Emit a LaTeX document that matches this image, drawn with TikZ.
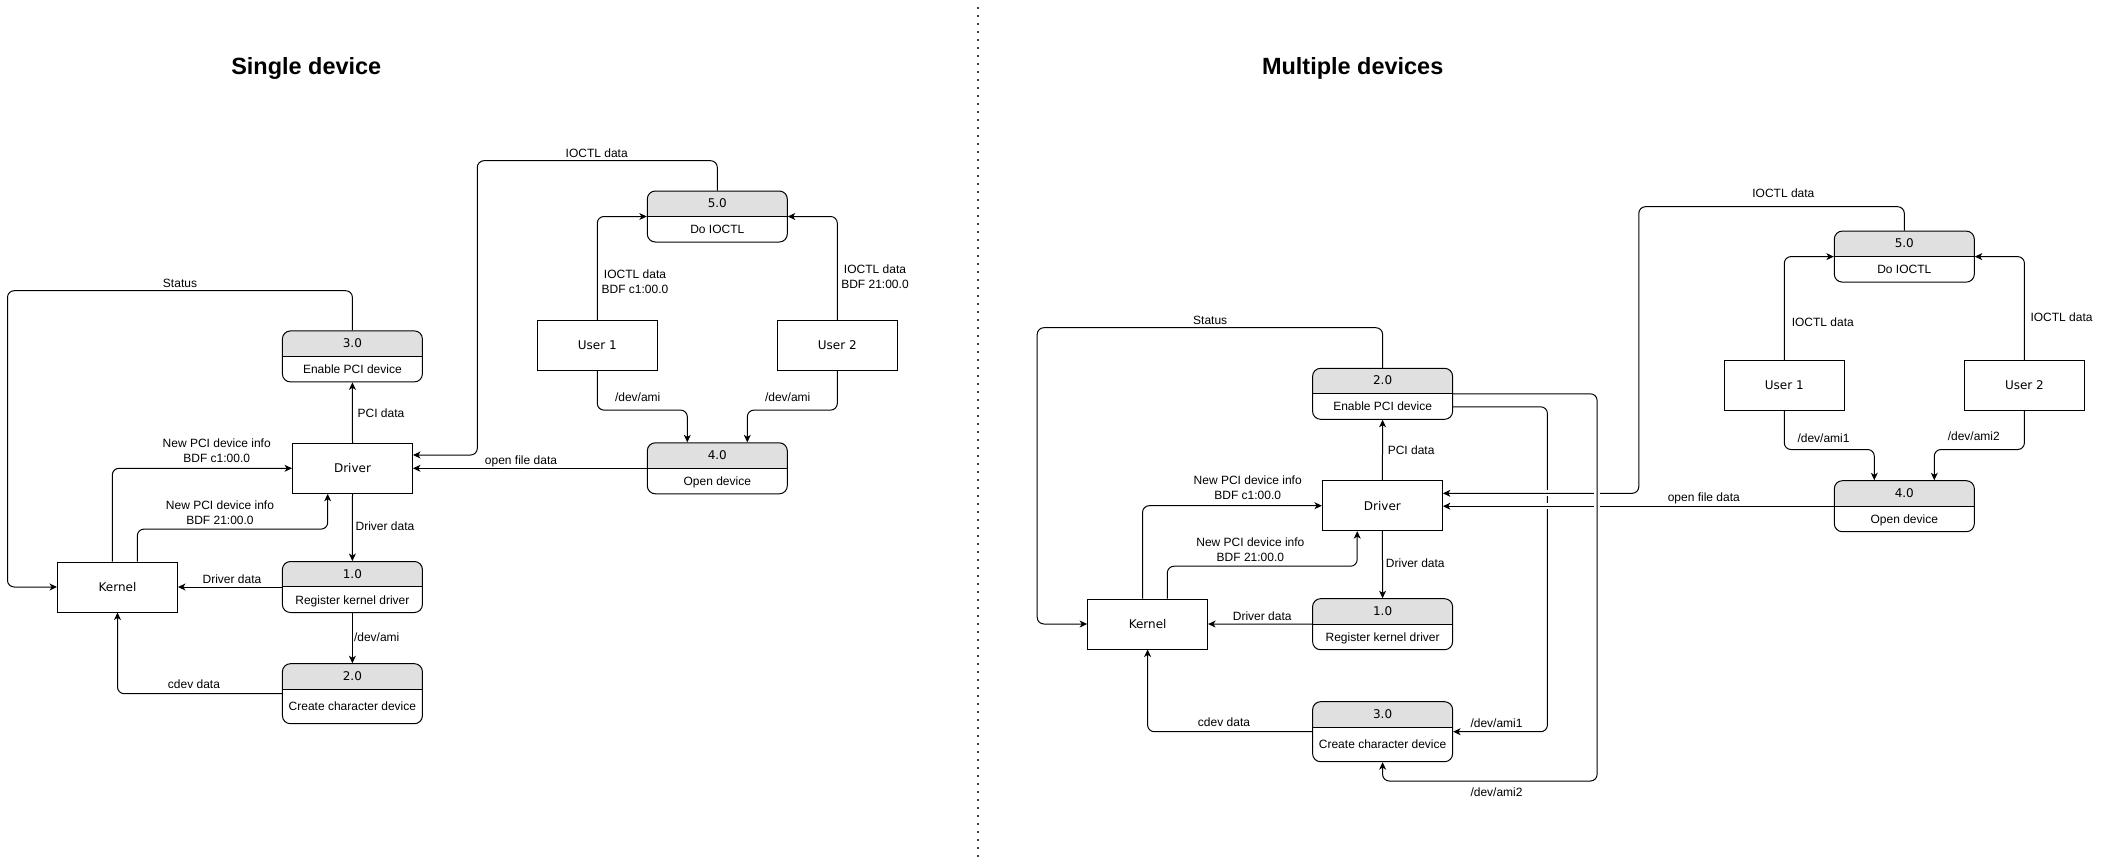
\documentclass[tikz,border=0pt]{standalone}
\usepackage{fontspec}
\setmainfont{Liberation Sans}
\newfontfamily\numfont{DejaVu Sans}
\usetikzlibrary{arrows.meta, calc}
\definecolor{hdrgray}{RGB}{224,224,224}

\begin{document}
\begin{tikzpicture}[
    x=0.75pt, y=-0.75pt,
    ent/.style={draw, line width=0.75pt, minimum width=90pt, minimum height=37.5pt,
                font=\numfont\fontsize{9}{11}\selectfont},
    proc/.style={draw, line width=0.75pt, rounded corners=6pt, minimum width=105pt,
                 minimum height=38.25pt, font=\fontsize{9}{11}\selectfont,
                 text height=25.6pt, text depth=0pt,
                 path picture={
                   \fill[hdrgray, sharp corners] (path picture bounding box.north west)
                     rectangle ([yshift=-19.1pt]path picture bounding box.north east);
                   \draw[sharp corners, line width=0.75pt]
                     ([yshift=-19.1pt]path picture bounding box.north west)
                     -- ([yshift=-19.1pt]path picture bounding box.north east);},
                 label={[numl]north:#1}},
    numl/.style={anchor=center, yshift=-9.56pt, inner sep=0pt, text height=6.6pt,
                 text depth=0pt, font=\numfont\fontsize{9}{11}\selectfont},
    arr/.style={-{Stealth[length=5.6pt, width=5.2pt, inset=1.6pt]}, line width=0.75pt,
                rounded corners=5pt},
    lbl/.style={font=\fontsize{9}{11.25}\selectfont, align=center, inner sep=0pt},
    ttl/.style={font=\bfseries\fontsize{17.6}{20}\selectfont},
    halo/.style={draw=white, line width=4.5pt},
    sep/.style={line width=1.5pt, dash pattern=on 1.5pt off 4.5pt, black!75},
  ]
    \useasboundingbox (0,0) rectangle (2107,858);

    \node[ttl] (t1) at (306.3,68.5) {Single device};
    \node[ttl] (t2) at (1352.7,68.5) {Multiple devices};
    \draw[sep] (977.7,7) -- (977.7,858);

    % single device
    \node[ent] (drv) at (352.5,468.3) {Driver};
    \node[ent] (kern) at (117.5,587) {Kernel};
    \node[proc=3.0] (enpci) at (352.4,356.4) {Enable PCI device};
    \node[proc=1.0] (regdrv) at (352.4,587) {Register kernel driver};
    \node[proc=2.0, minimum height=45pt] (mkcdev) at (352.4,693.7) {Create character device};
    \node[proc=5.0] (ioctl) at (717.3,216.5) {Do IOCTL};
    \node[proc=4.0] (opendev) at (717.3,468.3) {Open device};
    \node[ent] (usr1) at (597.3,345.3) {User 1};
    \node[ent] (usr2) at (837.3,345.3) {User 2};

    \coordinate (stA) at (7.5,290.7);
    \coordinate (ioA) at (477.3,160.7);
    \coordinate (ioB) at (477.3,455);

    \draw[arr] (enpci.north) |- (stA) |- (kern.west);
    \draw[arr] (ioctl.north) |- (ioA) -- (ioB) -- (drv.east |- ioB);
    \draw[arr] (opendev.west) -- (drv.east);
    \draw[arr] (usr1.north) |- (ioctl.west);
    \draw[arr] (usr2.north) |- (ioctl.east);
    \draw[arr] (usr1.south) -- ++(0,39.3) -| ([xshift=-22.5pt]opendev.north);
    \draw[arr] (usr2.south) -- ++(0,39.3) -| ([xshift=22.5pt]opendev.north);
    \draw[arr] ([xshift=-3.9pt]kern.north) |- (drv.west);
    \draw[arr] ([xshift=14.85pt]kern.north) -- ++(0,-32.4) -| ([xshift=-18.6pt]drv.south);
    \draw[arr] (drv.north) -- (enpci.south);
    \draw[arr] (drv.south) -- (regdrv.north);
    \draw[arr] (regdrv.west) -- (kern.east);
    \draw[arr] (regdrv.south) -- (mkcdev.north);
    \draw[arr] (mkcdev.west) -| (kern.south);

    \node[lbl] (lA1) at (180,283) {Status};
    \node[lbl] (lA2) at (381,413.3) {PCI data};
    \node[lbl] (lA3) at (216.7,450.5) {New PCI device info\\BDF c1:00.0};
    \node[lbl] (lA4) at (220,512.8) {New PCI device info\\BDF 21:00.0};
    \node[lbl] (lA5) at (385,526.7) {Driver data};
    \node[lbl] (lA6) at (232,579) {Driver data};
    \node[lbl] (lA7) at (376.7,636.7) {/dev/ami};
    \node[lbl] (lA8) at (194,684.3) {cdev data};
    \node[lbl] (lA9) at (596.7,153.3) {IOCTL data};
    \node[lbl] (lA10) at (635,281.8) {IOCTL data\\BDF c1:00.0};
    \node[lbl] (lA11) at (875,276.8) {IOCTL data\\BDF 21:00.0};
    \node[lbl] (lA12) at (637.7,397.7) {/dev/ami};
    \node[lbl] (lA13) at (787.7,397) {/dev/ami};
    \node[lbl] (lA14) at (521,461.7) {open file data};

    % multiple devices
    \node[ent] (drvB) at (1382.4,505.7) {Driver};
    \node[ent] (kernB) at (1147.6,624) {Kernel};
    \node[proc=2.0] (enpciB) at (1382.6,393.8) {Enable PCI device};
    \node[proc=1.0] (regdrvB) at (1382.6,624.2) {Register kernel driver};
    \node[proc=3.0, minimum height=45pt] (mkcdevB) at (1382.6,731.7) {Create character device};
    \node[proc=5.0] (ioctlB) at (1904.3,256.6) {Do IOCTL};
    \node[proc=4.0] (opendevB) at (1904.3,506.2) {Open device};
    \node[ent] (usr1B) at (1784.3,385.3) {User 1};
    \node[ent] (usr2B) at (2024.4,385.3) {User 2};

    \coordinate (stB) at (1037.2,327.7);
    \coordinate (a1) at (1547.4,731.7);
    \coordinate (a2) at (1597.1,781);
    \coordinate (ioC) at (1638.8,206.7);
    \coordinate (ioD) at (1638.8,493.3);

    \draw[arr] (enpciB.north) |- (stB) |- (kernB.west);
    \draw[arr] ([yshift=-9.75pt]enpciB.east) -| (a1) -- (mkcdevB.east);
    \draw[halo] (1541,493.3) -- (1554,493.3);
    \draw[halo] (1541,506.2) -- (1554,506.2);
    \draw[arr] (ioctlB.north) |- (ioC) -- (ioD) -- (drvB.east |- ioD);
    \draw[arr] (opendevB.west) -- (drvB.east |- opendevB.west);
    \draw[halo, line width=5pt] (1597.1,485) -- (1597.1,515);
    \draw[arr] (enpciB.east) -| (a2) -| (mkcdevB.south);
    \draw[arr] (usr1B.north) |- (ioctlB.west);
    \draw[arr] (usr2B.north) |- (ioctlB.east);
    \draw[arr] (usr1B.south) -- ++(0,38.7) -| ([xshift=-22.5pt]opendevB.north);
    \draw[arr] (usr2B.south) -- ++(0,38.7) -| ([xshift=22.5pt]opendevB.north);
    \draw[arr] ([xshift=-3.8pt]kernB.north) |- (drvB.west);
    \draw[arr] ([xshift=14.8pt]kernB.north) -- ++(0,-32.3) -| ([xshift=-18.9pt]drvB.south);
    \draw[arr] (drvB.north) -- (enpciB.south);
    \draw[arr] (drvB.south) -- (regdrvB.north);
    \draw[arr] (regdrvB.west) -- (kernB.east);
    \draw[arr] (mkcdevB.west) -| (kernB.south);

    \node[lbl] (lB1) at (1210.2,320) {Status};
    \node[lbl] (lB2) at (1411.1,450.7) {PCI data};
    \node[lbl] (lB3) at (1247.7,487.8) {New PCI device info\\BDF c1:00.0};
    \node[lbl] (lB4) at (1250.4,549.8) {New PCI device info\\BDF 21:00.0};
    \node[lbl] (lB5) at (1415.3,563.3) {Driver data};
    \node[lbl] (lB6) at (1262.2,616) {Driver data};
    \node[lbl] (lB7) at (1224,721.7) {cdev data};
    \node[lbl] (lB8) at (1496.5,723.3) {/dev/ami1};
    \node[lbl] (lB9) at (1496.5,791.7) {/dev/ami2};
    \node[lbl] (lB10) at (1783.4,193.3) {IOCTL data};
    \node[lbl] (lB11) at (1822.8,322.3) {IOCTL data};
    \node[lbl] (lB12) at (2061.5,317.3) {IOCTL data};
    \node[lbl] (lB13) at (1823.5,438.3) {/dev/ami1};
    \node[lbl] (lB14) at (1973.8,436.7) {/dev/ami2};
    \node[lbl] (lB15) at (1703.8,498.7) {open file data};
  \end{tikzpicture}
\end{document}
